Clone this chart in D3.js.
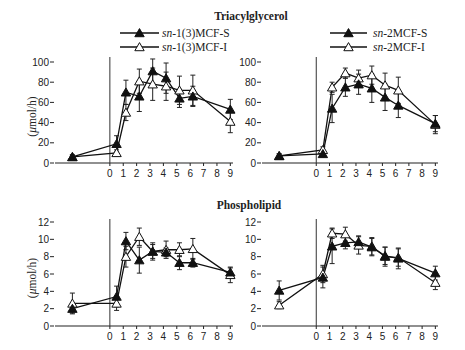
<!DOCTYPE html>
<html>
<head>
<meta charset="utf-8">
<script src="https://cdn.jsdelivr.net/npm/d3@7"></script>
<style>
  body { margin: 0; background: #fff; }
  svg text { fill: #222; }
</style>
</head>
<body>
<div id="chart"></div>
<script>
// sampling times (h); first one is the fasting baseline drawn left of 0
const times = [-2.8, 0.5, 1.2, 2.2, 3.2, 4.2, 5.2, 6.2, 9];
const hourTicks = [0, 1, 2, 3, 4, 5, 6, 7, 8, 9];

// Triacylglycerol
const tgSn13S    = [6, 19, 70, 66, 91, 84, 64, 66, 53];
const tgSn13SErr = [2, 8, 12, 15, 12, 15, 9, 10, 10];
const tgSn13I    = [6, 10, 50, 81, 78, 76, 72, 72, 41];
const tgSn13IErr = [2, 3, 8, 12, 16, 14, 14, 15, 11];
const tgSn2S     = [7, 9, 54, 75, 78, 74, 65, 57, 39];
const tgSn2SErr  = [2, 3, 14, 9, 10, 14, 13, 12, 8];
const tgSn2I     = [7, 13, 75, 89, 84, 87, 77, 72, 38];
const tgSn2IErr  = [2, 3, 5, 5, 8, 9, 12, 13, 9];

// Phospholipid
const plSn13S    = [2.0, 3.4, 9.8, 7.6, 8.6, 8.5, 7.3, 7.3, 6.2];
const plSn13SErr = [0.5, 1.2, 1.0, 1.5, 0.8, 0.5, 0.8, 0.5, 0.5];
const plSn13I    = [2.6, 2.6, 8.0, 10.3, 8.6, 8.8, 8.8, 8.9, 5.9];
const plSn13IErr = [1.2, 0.8, 1.2, 1.0, 1.0, 1.0, 0.8, 1.2, 0.9];
const plSn2S     = [4.1, 5.6, 9.2, 9.6, 9.7, 9.1, 8.1, 7.8, 6.1];
const plSn2SErr  = [1.1, 1.2, 2.0, 0.7, 0.7, 1.0, 1.0, 1.2, 0.8];
const plSn2I     = [2.4, 6.0, 10.7, 10.6, 9.3, 9.2, 8.0, 7.9, 5.0];
const plSn2IErr  = [0.4, 1.0, 0.6, 0.8, 1.0, 1.0, 1.1, 1.0, 0.8];

const legendLeft  = ["-1(3)MCF-S", "-1(3)MCF-I"];
const legendRight = ["-2MCF-S", "-2MCF-I"];

const W = 465, H = 350;
const svg = d3.select("#chart").append("svg")
  .attr("width", W).attr("height", H);

const serif = "'Liberation Serif', 'Times New Roman', serif";
const sans = "'Liberation Sans', Arial, sans-serif";

const panels = [
  { x0: 55, x1: 233, yBottom: 163, yTop: 62, lineTop: 57, yMax: 100, yStep: 20, ylab: true,
    s: tgSn13S, sErr: tgSn13SErr, i: tgSn13I, iErr: tgSn13IErr },
  { x0: 262, x1: 438, yBottom: 163, yTop: 62, lineTop: 57, yMax: 100, yStep: 20, ylab: false,
    s: tgSn2S, sErr: tgSn2SErr, i: tgSn2I, iErr: tgSn2IErr },
  { x0: 55, x1: 233, yBottom: 326, yTop: 222, lineTop: 219, yMax: 12, yStep: 2, ylab: true,
    s: plSn13S, sErr: plSn13SErr, i: plSn13I, iErr: plSn13IErr },
  { x0: 262, x1: 438, yBottom: 326, yTop: 222, lineTop: 219, yMax: 12, yStep: 2, ylab: false,
    s: plSn2S, sErr: plSn2SErr, i: plSn2I, iErr: plSn2IErr }
];

const tri = d3.symbol().type(d3.symbolTriangle).size(38);

panels.forEach(p => {
  const x = d3.scaleLinear().domain([-4.1, 9.2]).range([p.x0, p.x1]);
  const y = d3.scaleLinear().domain([0, p.yMax]).range([p.yBottom, p.yTop]);
  const g = svg.append("g");

  // x axis line + ticks
  g.append("line")
    .attr("x1", p.x0).attr("x2", p.x1)
    .attr("y1", p.yBottom).attr("y2", p.yBottom)
    .attr("stroke", "#222").attr("stroke-width", 1.1);
  hourTicks.forEach(t => {
    g.append("line")
      .attr("x1", x(t)).attr("x2", x(t))
      .attr("y1", p.yBottom).attr("y2", p.yBottom + 3)
      .attr("stroke", "#222");
    g.append("text")
      .attr("x", x(t)).attr("y", p.yBottom + 14)
      .attr("text-anchor", "middle")
      .style("font-family", sans).style("font-size", "10px")
      .text(t);
  });

  // vertical line at time 0
  g.append("line")
    .attr("x1", x(0)).attr("x2", x(0))
    .attr("y1", p.lineTop).attr("y2", p.yBottom)
    .attr("stroke", "#333").attr("stroke-width", 1);

  // y ticks (no domain line)
  d3.range(0, p.yMax + 0.001, p.yStep).forEach(v => {
    g.append("line")
      .attr("x1", p.x0 - 5).attr("x2", p.x0 - 1)
      .attr("y1", y(v)).attr("y2", y(v))
      .attr("stroke", "#222");
    g.append("text")
      .attr("x", p.x0 - 6).attr("y", y(v))
      .attr("dy", "0.35em")
      .attr("text-anchor", "end")
      .style("font-family", sans).style("font-size", "10px")
      .text(v);
  });

  if (p.ylab) {
    const lab = g.append("text")
      .attr("transform", `translate(36, ${(p.yBottom + p.yTop) / 2 + 4}) rotate(-90)`)
      .attr("text-anchor", "middle")
      .style("font-family", serif).style("font-size", "11.5px");
    lab.append("tspan").text("(");
    lab.append("tspan").style("font-style", "italic").text("μ");
    lab.append("tspan").text("mol/h)");
  }

  // open series first so the filled triangles sit on top
  const series = [
    { v: p.i, e: p.iErr, fill: "#fff" },
    { v: p.s, e: p.sErr, fill: "#111" }
  ];

  const line = d3.line().x((d, k) => x(times[k])).y(d => y(d));

  series.forEach(s => {
    // error bars
    s.v.forEach((v, k) => {
      const cx = x(times[k]);
      const lo = y(v - s.e[k]), hi = y(v + s.e[k]);
      g.append("line").attr("x1", cx).attr("x2", cx).attr("y1", lo).attr("y2", hi)
        .attr("stroke", "#222").attr("stroke-width", 1);
      [lo, hi].forEach(yy => {
        g.append("line").attr("x1", cx - 2.5).attr("x2", cx + 2.5).attr("y1", yy).attr("y2", yy)
          .attr("stroke", "#222").attr("stroke-width", 1);
      });
    });
    g.append("path")
      .attr("d", line(s.v))
      .attr("fill", "none").attr("stroke", "#111").attr("stroke-width", 1.3);
  });

  series.forEach(s => {
    g.selectAll(null).data(s.v).enter().append("path")
      .attr("d", tri)
      .attr("transform", (d, k) => `translate(${x(times[k])}, ${y(d) + 1})`)
      .attr("fill", s.fill).attr("stroke", "#111").attr("stroke-width", 1);
  });
});

// titles
svg.append("text").attr("x", 251).attr("y", 20).attr("text-anchor", "middle")
  .style("font-family", serif).style("font-weight", "bold").style("font-size", "11.5px")
  .text("Triacylglycerol");
svg.append("text").attr("x", 249).attr("y", 209).attr("text-anchor", "middle")
  .style("font-family", serif).style("font-weight", "bold").style("font-size", "11.5px")
  .text("Phospholipid");

// legends
function drawLegend(lx0, lx1, tx, labels) {
  const fills = ["#111", "#fff"];
  labels.forEach((lab, k) => {
    const ly = 33 + k * 14;
    svg.append("line").attr("x1", lx0).attr("x2", lx1).attr("y1", ly).attr("y2", ly)
      .attr("stroke", "#111").attr("stroke-width", 1.3);
    svg.append("path").attr("d", tri)
      .attr("transform", `translate(${(lx0 + lx1) / 2}, ${ly + 1})`)
      .attr("fill", fills[k]).attr("stroke", "#111");
    const t = svg.append("text").attr("x", tx).attr("y", ly + 4)
      .style("font-family", serif).style("font-size", "11.5px");
    t.append("tspan").style("font-style", "italic").text("sn");
    t.append("tspan").text(lab);
  });
}
drawLegend(120, 159, 162, legendLeft);
drawLegend(330, 367, 373, legendRight);
</script>
</body>
</html>
